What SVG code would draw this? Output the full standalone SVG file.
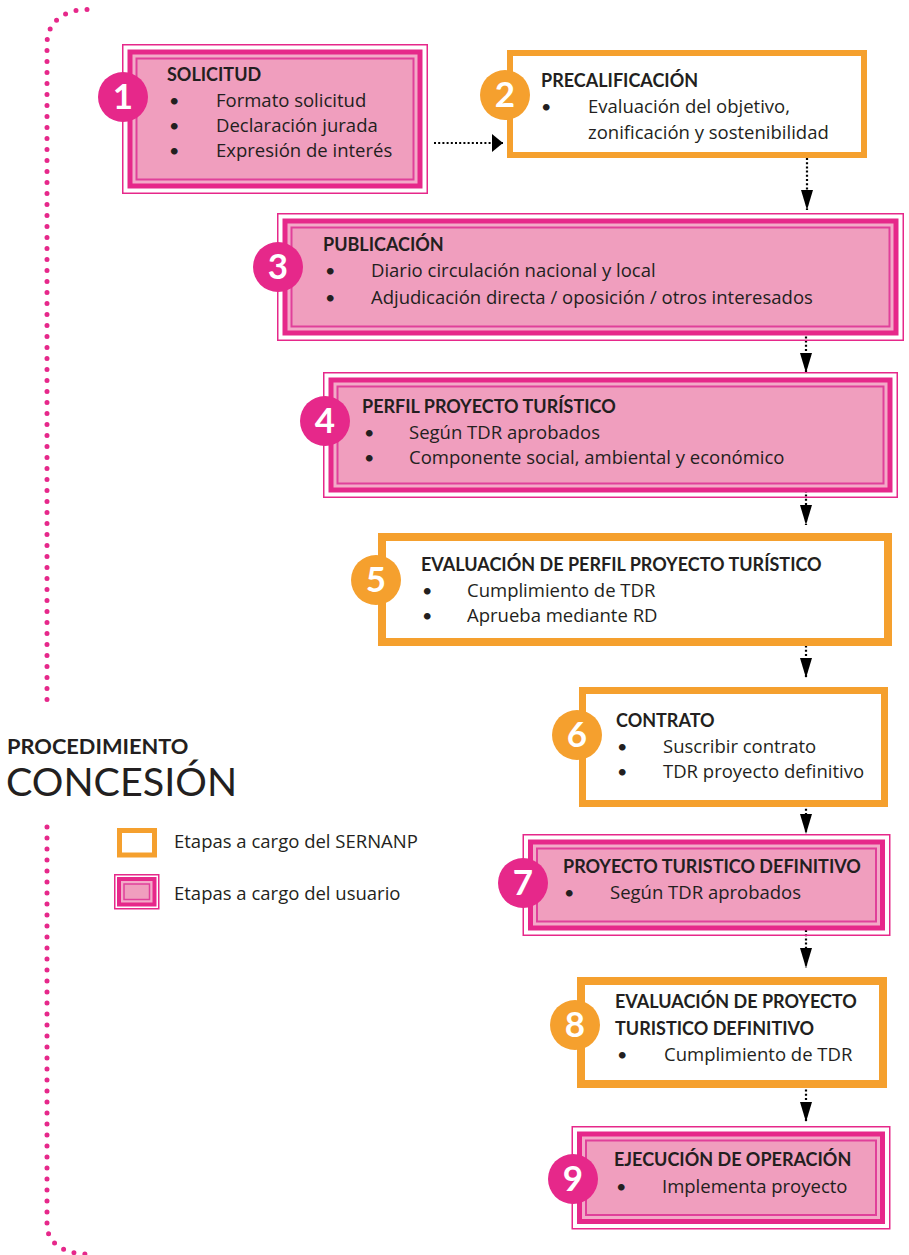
<svg xmlns="http://www.w3.org/2000/svg" width="909" height="1255" viewBox="0 0 909 1255">
<defs>
<style>
.t{font-family:"Open Sans",Lato,sans-serif;font-size:18.5px;fill:#231F20}
.u{font-family:Lato,"Open Sans",sans-serif;font-size:18px;fill:#231F20}
.b{font-family:Lato,"Open Sans",sans-serif;font-size:18px;font-weight:bold;fill:#231F20}
.n{font-family:Lato,"Open Sans",sans-serif;font-size:35px;font-weight:bold;fill:#FFFFFF;text-anchor:middle}
.o1{fill:none;stroke:#E6288A;stroke-width:1.5}
.o2{fill:#F3AAC8;stroke:#E6288A;stroke-width:5}
.o3{fill:#F09EBE;stroke:#E0409A;stroke-width:2}
.or{fill:#FFFFFF;stroke:#F5A02E}
.cm{fill:#E6288A}
.co{fill:#F5A02E}
.dot{fill:none;stroke:#000;stroke-width:2.2;stroke-dasharray:2 2.2}
.br{fill:none;stroke:#E6288A;stroke-width:5;stroke-linecap:round;stroke-dasharray:0 11}
</style>
<marker id="ah" viewBox="0 0 20 12" refX="20" refY="6" markerWidth="20" markerHeight="12" markerUnits="userSpaceOnUse" orient="auto"><path d="M0,0 L20,6 L0,12 Z" fill="#000"/></marker>
<marker id="ahh" viewBox="0 0 11 18" refX="11" refY="9" markerWidth="11" markerHeight="18" markerUnits="userSpaceOnUse" orient="auto"><path d="M0,0 L11,9 L0,18 Z" fill="#000"/></marker>
</defs>

<g id="bracket">
<path class="br" d="M87,9.5 C64,9.5 47,22 47,44 L47,704"/>
<path class="br" d="M47,827 L47,1225 C47,1242 63,1254 87,1254"/>
</g>

<g id="title">
<text x="7" y="754" style="font-family:Lato,'Open Sans',sans-serif;font-size:21.8px;font-weight:bold;fill:#231F20">PROCEDIMIENTO</text>
<text x="6" y="796" style="font-family:Lato,'Open Sans',sans-serif;font-size:39.5px;fill:#231F20">CONCESIÓN</text>
</g>

<g id="legend">
<rect x="119.5" y="830.5" width="35" height="24.5" fill="#FFFFFF" stroke="#F5A02E" stroke-width="5"/>
<text class="t" x="174" y="848">Etapas a cargo del SERNANP</text>
<rect x="114.75" y="874.75" width="44" height="34" fill="none" stroke="#E6288A" stroke-width="1.5"/>
<rect x="119" y="879" width="35.5" height="25.5" fill="#F3AAC8" stroke="#E6288A" stroke-width="4"/>
<rect x="124" y="884" width="25.5" height="15.5" fill="#F09EBE" stroke="#E0409A" stroke-width="1.5"/>
<text class="t" x="174" y="900">Etapas a cargo del usuario</text>
</g>

<g id="connectors">
<path class="dot" d="M434,143 L503,143" marker-end="url(#ahh)"/>
<path class="dot" d="M807,158 L807,210" marker-end="url(#ah)"/>
<path class="dot" d="M806,328 L806,373" marker-end="url(#ah)"/>
<path class="dot" d="M806,482 L806,525" marker-end="url(#ah)"/>
<path class="dot" d="M806,633 L806,678" marker-end="url(#ah)"/>
<path class="dot" d="M806,792 L806,834" marker-end="url(#ah)"/>
<path class="dot" d="M806,930 L806,968" marker-end="url(#ah)"/>
<path class="dot" d="M806,1077 L806,1122" marker-end="url(#ah)"/>
</g>

<g id="n1">
<rect class="o1" x="122.75" y="44.75" width="304.5" height="148.5"/>
<rect class="o2" x="130" y="52" width="290" height="134"/>
<rect class="o3" x="136.5" y="58.5" width="277" height="121"/>
<circle class="cm" cx="123" cy="97" r="25"/>
<text class="n" x="123" y="109">1</text>
<text class="b" x="167" y="81">SOLICITUD</text>
<text class="u" x="169" y="107">•</text><text class="t" x="216" y="107">Formato solicitud</text>
<text class="u" x="169" y="132">•</text><text class="t" x="216" y="132">Declaración jurada</text>
<text class="u" x="169" y="157">•</text><text class="t" x="216" y="157">Expresión de interés</text>
</g>

<g id="n2">
<rect class="or" x="510" y="53" width="354" height="102" stroke-width="6"/>
<circle class="co" cx="505" cy="95" r="25"/>
<text class="n" x="505" y="107">2</text>
<text class="b" x="541" y="87">PRECALIFICACIÓN</text>
<text class="u" x="541" y="113">•</text><text class="t" x="588" y="113">Evaluación del objetivo,</text>
<text class="t" x="588" y="139">zonificación y sostenibilidad</text>
</g>

<g id="n3">
<rect class="o1" x="277.75" y="213.75" width="625.5" height="126.5"/>
<rect class="o2" x="285" y="221" width="611" height="112"/>
<rect class="o3" x="291.5" y="227.5" width="598" height="99"/>
<circle class="cm" cx="278" cy="267" r="25"/>
<text class="n" x="278" y="279">3</text>
<text class="b" x="323" y="251">PUBLICACIÓN</text>
<text class="u" x="325" y="277">•</text><text class="t" x="371" y="277">Diario circulación nacional  y local</text>
<text class="u" x="325" y="304">•</text><text class="t" x="371" y="304">Adjudicación directa / oposición / otros interesados</text>
</g>

<g id="n4">
<rect class="o1" x="323.75" y="372.75" width="573.5" height="124.5"/>
<rect class="o2" x="331" y="380" width="559" height="110"/>
<rect class="o3" x="337.5" y="386.5" width="546" height="97"/>
<circle class="cm" cx="325" cy="421" r="25"/>
<text class="n" x="325" y="433">4</text>
<text class="b" x="362" y="413">PERFIL PROYECTO TURÍSTICO</text>
<text class="u" x="364" y="439">•</text><text class="t" x="409" y="439">Según TDR aprobados</text>
<text class="u" x="364" y="464">•</text><text class="t" x="409" y="464">Componente social, ambiental y económico</text>
</g>

<g id="n5">
<rect class="or" x="382" y="537" width="506" height="105" stroke-width="8"/>
<circle class="co" cx="376" cy="580" r="25"/>
<text class="n" x="376" y="592">5</text>
<text class="b" x="421" y="571">EVALUACIÓN DE PERFIL PROYECTO TURÍSTICO</text>
<text class="u" x="422" y="597">•</text><text class="t" x="467" y="597">Cumplimiento de TDR</text>
<text class="u" x="422" y="622">•</text><text class="t" x="467" y="622">Aprueba mediante RD</text>
</g>

<g id="n6">
<rect class="or" x="582.5" y="690.5" width="302" height="113" stroke-width="7"/>
<circle class="co" cx="577" cy="735" r="25"/>
<text class="n" x="577" y="747">6</text>
<text class="b" x="616" y="727">CONTRATO</text>
<text class="u" x="617" y="753">•</text><text class="t" x="663" y="753">Suscribir contrato</text>
<text class="u" x="617" y="778">•</text><text class="t" x="663" y="778">TDR proyecto definitivo</text>
</g>

<g id="n7">
<rect class="o1" x="523.25" y="834.75" width="366.5" height="100.5"/>
<rect class="o2" x="530.5" y="842" width="352" height="86"/>
<rect class="o3" x="537" y="848.5" width="339" height="73"/>
<circle class="cm" cx="523" cy="883" r="25"/>
<text class="n" x="523" y="895">7</text>
<text class="b" x="563" y="873">PROYECTO TURISTICO DEFINITIVO</text>
<text class="u" x="564" y="899">•</text><text class="t" x="610" y="899">Según TDR aprobados</text>
</g>

<g id="n8">
<rect class="or" x="581" y="981" width="302" height="103" stroke-width="8"/>
<circle class="co" cx="575" cy="1025" r="25"/>
<text class="n" x="575" y="1037">8</text>
<text class="b" x="615" y="1008">EVALUACIÓN DE PROYECTO</text>
<text class="b" x="615" y="1035">TURISTICO DEFINITIVO</text>
<text class="u" x="617" y="1061">•</text><text class="t" x="664" y="1061">Cumplimiento de TDR</text>
</g>

<g id="n9">
<rect class="o1" x="572.25" y="1126.75" width="317.5" height="102"/>
<rect class="o2" x="579.5" y="1134" width="303" height="87.5"/>
<rect class="o3" x="586" y="1140.5" width="290" height="74.5"/>
<circle class="cm" cx="573" cy="1179" r="25"/>
<text class="n" x="573" y="1191">9</text>
<text class="b" x="614" y="1166">EJECUCIÓN DE OPERACIÓN</text>
<text class="u" x="616" y="1193">•</text><text class="t" x="662" y="1193">Implementa proyecto</text>
</g>
</svg>
